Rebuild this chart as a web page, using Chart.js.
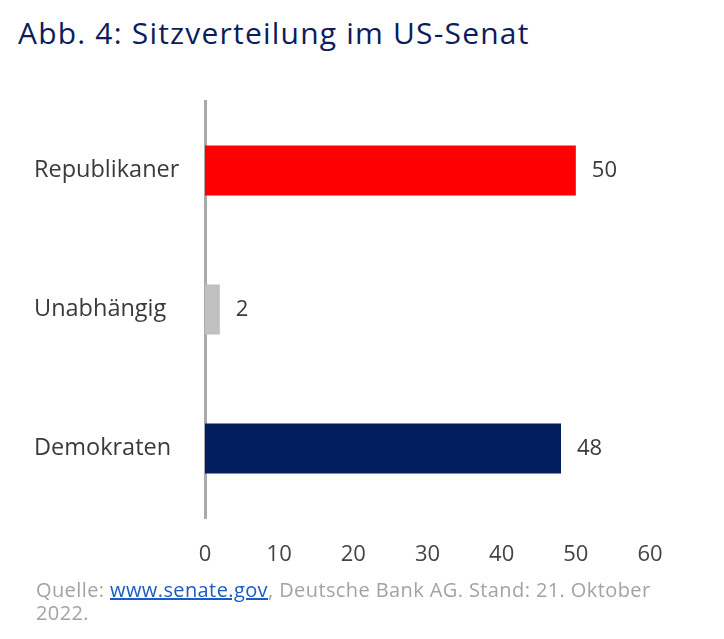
<!DOCTYPE html>
<html>
<head>
<meta charset="utf-8">
<script src="https://cdn.jsdelivr.net/npm/chart.js@4"></script>
<style>
  html, body { margin: 0; padding: 0; background: #fff; }
  body { width: 724px; height: 639px; position: relative; overflow: hidden; font-family: "Open Sans", Roboto, sans-serif; }
  #title { position: absolute; left: 18px; top: 12px; font-size: 30px; letter-spacing: 1.2px; color: #0b1d5b; white-space: nowrap; }
  #wrap { position: absolute; left: 0; top: 0; width: 724px; height: 580px; }
  #foot { position: absolute; left: 36px; top: 578px; font-size: 20px; letter-spacing: 0.4px; line-height: 23px; color: #a3a3a3; width: 640px; }
  #foot a { color: #1b5bc6; text-decoration: underline; }
</style>
</head>
<body>
<div id="title">Abb. 4: Sitzverteilung im US-Senat</div>
<div id="wrap"><canvas id="c"></canvas></div>
<div id="foot">Quelle: <a href="#">www.senate.gov</a>, Deutsche Bank AG. Stand: 21. Oktober 2022.</div>
<script>
const categories = ["Republikaner", "Unabhängig", "Demokraten"];
const seats = [50, 2, 48];
const barColors = ["#ff0000", "#c0c0c0", "#021e5e"];
const xTicks = [0, 10, 20, 30, 40, 50, 60];

const FONT = '"Open Sans", Roboto, sans-serif';

const valueLabels = {
  id: 'valueLabels',
  afterDatasetsDraw(chart) {
    const ctx = chart.ctx;
    const meta = chart.getDatasetMeta(0);
    ctx.save();
    ctx.font = '22px ' + FONT;
    ctx.fillStyle = '#3a3a3a';
    ctx.textAlign = 'left';
    ctx.textBaseline = 'middle';
    meta.data.forEach((bar, i) => {
      ctx.fillText(String(seats[i]), bar.x + 16, bar.y);
    });
    ctx.restore();
  }
};

new Chart(document.getElementById('c'), {
  type: 'bar',
  data: {
    labels: categories,
    datasets: [{
      data: seats,
      backgroundColor: barColors,
      borderWidth: 0,
      barPercentage: 0.72,
      categoryPercentage: 0.5
    }]
  },
  options: {
    indexAxis: 'y',
    responsive: true,
    maintainAspectRatio: false,
    animation: false,
    layout: { padding: { top: 101, left: 34, right: 74, bottom: 0 } },
    plugins: { legend: { display: false }, tooltip: { enabled: false } },
    scales: {
      x: {
        min: 0, max: 60,
        afterBuildTicks(scale) { scale.ticks = xTicks.map(v => ({ value: v })); },
        afterFit(scale) { scale.height = 62; },
        grid: { display: false },
        border: { display: false },
        ticks: { color: '#444', font: { family: FONT, size: 22 }, padding: 16 }
      },
      y: {
        grid: { display: false },
        border: { display: true, color: '#aaaaaa', width: 3 },
        afterFit(scale) { scale.width = 171; },
        ticks: { color: '#3a3a3a', font: { family: FONT, size: 23.5 }, crossAlign: 'far', padding: 0 }
      }
    }
  },
  plugins: [valueLabels]
});
</script>
</body>
</html>
